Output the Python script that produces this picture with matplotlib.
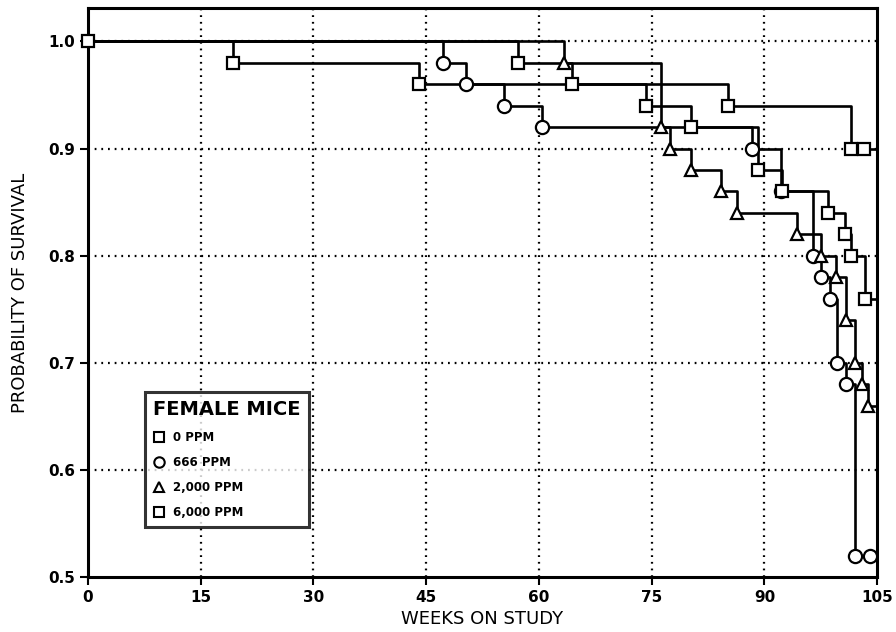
import numpy as np
import matplotlib.pyplot as plt
from matplotlib.lines import Line2D

# Kaplan-Meier style survival, female mice
# each group: weeks of events (deaths / end markers) and survival after the event
weeks_0ppm = [19.3, 44.0, 85.2, 101.5, 103.2]
surv_0ppm = [0.98, 0.96, 0.94, 0.90, 0.90]

weeks_666ppm = [47.2, 50.3, 55.4, 60.4, 88.3, 92.2, 96.4, 97.5, 98.7, 99.7, 100.8, 102.0, 104.0]
surv_666ppm = [0.98, 0.96, 0.94, 0.92, 0.90, 0.86, 0.80, 0.78, 0.76, 0.70, 0.68, 0.52, 0.52]

weeks_2000ppm = [63.3, 76.3, 77.5, 80.3, 84.2, 86.4, 94.4, 97.5, 99.5, 100.8, 102.0, 103.0, 103.8]
surv_2000ppm = [0.98, 0.92, 0.90, 0.88, 0.86, 0.84, 0.82, 0.80, 0.78, 0.74, 0.70, 0.68, 0.66]

weeks_6000ppm = [57.2, 64.4, 74.3, 80.3, 89.1, 92.3, 98.4, 100.7, 101.5, 103.4]
surv_6000ppm = [0.98, 0.96, 0.94, 0.92, 0.88, 0.86, 0.84, 0.82, 0.80, 0.76]

labels = ['0 PPM', '666 PPM', '2,000 PPM', '6,000 PPM']
markers = ['s', 'o', '^', 's']
groups = [(weeks_0ppm, surv_0ppm), (weeks_666ppm, surv_666ppm),
          (weeks_2000ppm, surv_2000ppm), (weeks_6000ppm, surv_6000ppm)]

x_ticks = [0, 15, 30, 45, 60, 75, 90, 105]
y_ticks = [0.5, 0.6, 0.7, 0.8, 0.9, 1.0]
study_end = 105

fig = plt.figure(figsize=(8.96, 6.32), dpi=100)
ax = fig.add_axes([0.098, 0.087, 0.881, 0.900])

# dotted grid
for xv in x_ticks[1:-1]:
    ax.axvline(xv, color='black', lw=1.6, ls=(0, (0.8, 2.2)), zorder=1)
for yv in y_ticks[1:]:
    ax.axhline(yv, color='black', lw=1.6, ls=(0, (0.8, 2.2)), zorder=1)

order = [1, 2, 0, 3]  # squares drawn last
for i in order:
    wk, sv = groups[i]
    xs = [0] + list(wk) + [study_end]
    ys = [1.0] + list(sv) + [sv[-1]]
    ax.step(xs, ys, where='post', color='black', lw=1.9, zorder=2 + i)
    ax.plot(wk, sv, ls='none', marker=markers[i], ms=9 if markers[i] != 'o' else 9.5,
            mfc='white', mec='black', mew=1.6, zorder=6 + i)

# start marker
ax.plot([0], [1.0], ls='none', marker='s', ms=9, mfc='white', mec='black', mew=1.6,
        zorder=12, clip_on=False)

ax.set_xlim(0, study_end)
ax.set_ylim(0.5, 1.031)
ax.set_xticks(x_ticks)
ax.set_yticks(y_ticks)
ax.set_xticklabels([str(v) for v in x_ticks], fontsize=11, fontweight='bold')
ax.set_yticklabels([f'{v:.1f}' for v in y_ticks], fontsize=11, fontweight='bold')
ax.tick_params(direction='out', length=6, width=1.5, pad=3)
for sp in ax.spines.values():
    sp.set_linewidth(2.2)

ax.set_xlabel('WEEKS ON STUDY', fontsize=13, labelpad=4)
ax.set_ylabel('PROBABILITY OF SURVIVAL', fontsize=13, labelpad=14)

handles = [Line2D([], [], ls='none', marker=m, ms=7.5, mfc='white', mec='black', mew=1.5)
           for m in markers]
leg = ax.legend(handles, labels, title='FEMALE MICE', loc='lower left',
                bbox_to_anchor=(0.072, 0.088), borderaxespad=0,
                prop={'size': 8.5, 'weight': 'bold'},
                title_fontproperties={'size': 14, 'weight': 'semibold'},
                labelspacing=1.0, handletextpad=0.7, handlelength=1.0,
                frameon=True, fancybox=False, edgecolor='black', borderpad=0.7)
leg.get_frame().set_linewidth(2.2)
leg._legend_box.align = 'left'

fig.savefig('out.png', dpi=100)
